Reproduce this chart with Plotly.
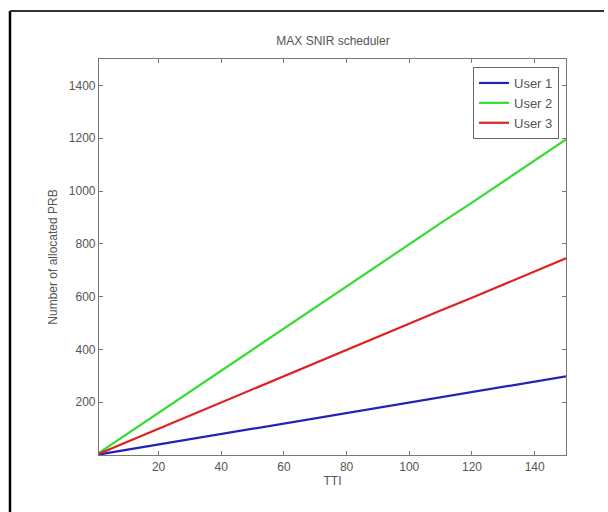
import plotly.graph_objects as go

tti = [1, 10, 20, 30, 40, 50, 60, 70, 80, 90, 100, 110, 120, 130, 140, 150]
user1 = [2, 20, 40, 59, 80, 100, 120, 139, 159, 180, 199, 220, 240, 259, 279, 298]
user2 = [8, 80, 160, 240, 320, 400, 480, 560, 640, 718, 798, 878, 956, 1036, 1116, 1195]
user3 = [5, 50, 100, 150, 199, 249, 299, 349, 398, 448, 498, 547, 596, 646, 696, 745]
names = ["User 1", "User 2", "User 3"]
colors = ["#2222bb", "#33dd33", "#dd2222"]

x_ticks = [20, 40, 60, 80, 100, 120, 140]
y_ticks = [200, 400, 600, 800, 1000, 1200, 1400]

FONT = "Liberation Sans, Arial, sans-serif"
TXT = "#555555"

fig = go.Figure()
for name, ys, c in zip(names, [user1, user2, user3], colors):
    fig.add_trace(go.Scatter(x=tti, y=ys, mode="lines", name=name,
                             line=dict(color=c, width=2.2)))

axis_common = dict(
    showgrid=False, zeroline=False, showline=True, linecolor="#777777",
    linewidth=1.2, mirror="allticks", ticks="inside", ticklen=4,
    tickcolor="#777777", tickfont=dict(family=FONT, size=12, color=TXT),
)

fig.update_layout(
    width=608, height=512,
    margin=dict(l=99, r=42, t=59, b=57),
    paper_bgcolor="white", plot_bgcolor="white",
    title=dict(text="MAX SNIR scheduler", x=(333 / 608), xanchor="center",
               y=1 - 41 / 512, yanchor="middle",
               font=dict(family=FONT, size=12, color=TXT)),
    xaxis=dict(range=[1, 150], tickvals=x_ticks,
               title=dict(text="TTI", standoff=4,
                          font=dict(family=FONT, size=12, color=TXT)),
               **axis_common),
    yaxis=dict(range=[0, 1500], tickvals=y_ticks,
               title=dict(text="Number of allocated PRB", standoff=8,
                          font=dict(family=FONT, size=12, color=TXT)),
               **axis_common),
    legend=dict(x=(559 - 99) / 467, xanchor="right", y=1 - (67 - 59) / 396,
                yanchor="top", bgcolor="white", bordercolor="#666666",
                borderwidth=1, font=dict(family=FONT, size=13, color=TXT),
                tracegroupgap=2),
    showlegend=True,
)

# Outer frame (left and top edges visible)
fig.add_shape(type="line", xref="paper", yref="paper",
              x0=(10 - 99) / 467, x1=(10 - 99) / 467,
              y0=(455 - 520) / 396, y1=1 + (59 - 11) / 396,
              line=dict(color="black", width=2.5))
fig.add_shape(type="line", xref="paper", yref="paper",
              x0=(10 - 99) / 467, x1=(604 - 99) / 467,
              y0=1 + (59 - 11) / 396, y1=1 + (59 - 11) / 396,
              line=dict(color="#333333", width=2))

fig.write_html("out.html",
               config={"displayModeBar": False},
               post_script="document.body.style.margin='0';"
                           "document.body.style.overflow='hidden';")
